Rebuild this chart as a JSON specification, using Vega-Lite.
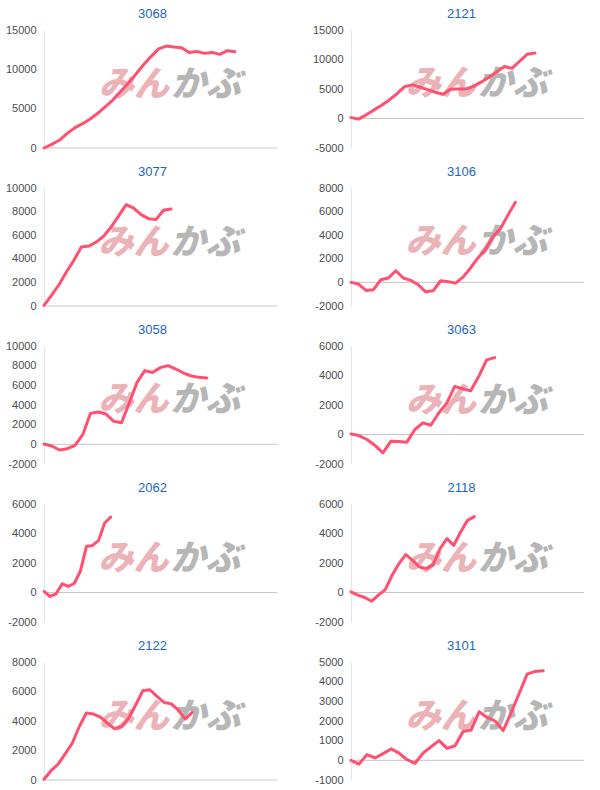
{
  "$schema": "https://vega.github.io/schema/vega-lite/v6.json",
  "padding": {"left": 5, "top": 8, "right": 5, "bottom": 5},
  "columns": 2,
  "spacing": {"row": 13, "column": 34},
  "config": {
    "view": {"stroke": null},
    "font": "Liberation Sans",
    "title": {"fontSize": 13, "fontWeight": "normal", "color": "#1a66c8", "anchor": "middle", "frame": "group", "offset": 3, "dx": -6, "font": "Liberation Sans"},
    "axisY": {"ticks": false, "labelPadding": 8, "labelFontSize": 11, "labelColor": "#4d4d4d", "labelFont": "Liberation Sans", "domainColor": "#e4e4e4", "gridColor": "#ebebeb", "title": null, "labelExpr": "'' + datum.value"},
    "line": {"color": "#ff5070", "strokeWidth": 3, "strokeJoin": "round", "strokeCap": "round"},
    "rule": {"color": "#c6c6c6", "strokeWidth": 1},
    "text": {"font": "Noto Sans CJK JP", "fontSize": 35, "fontWeight": 900, "fontStyle": "italic", "baseline": "middle"}
  },
  "concat": [
    {
      "title": {"text": "3068", "dx": -8}, "width": 233, "height": 118,
      "layer": [
        {"data": {"values": [{}]}, "mark": {"type": "text", "align": "right", "dx": -1, "fill": "#ebb3b7"}, "encoding": {"x": {"datum": 16.5, "type": "quantitative", "axis": null}, "y": {"datum": 8000, "type": "quantitative", "axis": {"values": [0, 5000, 10000, 15000]}}, "text": {"value": "みん"}}},
        {"data": {"values": [{}]}, "mark": {"type": "text", "align": "left", "dx": 1, "fill": "#b6b6b6"}, "encoding": {"x": {"datum": 16.5, "type": "quantitative", "axis": null}, "y": {"datum": 8000, "type": "quantitative", "axis": {"values": [0, 5000, 10000, 15000]}}, "text": {"value": "かぶ"}}},
        {"data": {"values": [{}]}, "mark": "rule", "encoding": {"y": {"datum": 0, "type": "quantitative", "axis": {"values": [0, 5000, 10000, 15000]}}}},
        {"data": {"values": [{"i":0,"v":0},{"i":1,"v":470},{"i":2,"v":980},{"i":3,"v":1830},{"i":4,"v":2550},{"i":5,"v":3060},{"i":6,"v":3660},{"i":7,"v":4380},{"i":8,"v":5230},{"i":9,"v":6090},{"i":10,"v":7150},{"i":11,"v":8210},{"i":12,"v":9360},{"i":13,"v":10550},{"i":14,"v":11620},{"i":15,"v":12600},{"i":16,"v":12960},{"i":17,"v":12830},{"i":18,"v":12750},{"i":19,"v":12150},{"i":20,"v":12280},{"i":21,"v":12030},{"i":22,"v":12150},{"i":23,"v":11900},{"i":24,"v":12370},{"i":25,"v":12240}]},
         "mark": "line",
         "encoding": {"x": {"field": "i", "type": "quantitative", "scale": {"domain": [0, 30.5], "nice": false}, "axis": null},
                      "y": {"field": "v", "type": "quantitative", "scale": {"domain": [0, 15000], "nice": false}, "axis": {"values": [0, 5000, 10000, 15000]}}}}
      ]
    },
    {
      "title": "2121", "width": 233, "height": 118,
      "layer": [
        {"data": {"values": [{}]}, "mark": {"type": "text", "align": "right", "dx": -1, "fill": "#ebb3b7"}, "encoding": {"x": {"datum": 16.4, "type": "quantitative", "axis": null}, "y": {"datum": 5900, "type": "quantitative", "axis": {"values": [-5000, 0, 5000, 10000, 15000]}}, "text": {"value": "みん"}}},
        {"data": {"values": [{}]}, "mark": {"type": "text", "align": "left", "dx": 1, "fill": "#b6b6b6"}, "encoding": {"x": {"datum": 16.4, "type": "quantitative", "axis": null}, "y": {"datum": 5900, "type": "quantitative", "axis": {"values": [-5000, 0, 5000, 10000, 15000]}}, "text": {"value": "かぶ"}}},
        {"data": {"values": [{}]}, "mark": "rule", "encoding": {"y": {"datum": 0, "type": "quantitative", "axis": {"values": [-5000, 0, 5000, 10000, 15000]}}}},
        {"data": {"values": [{"i":0,"v":150},{"i":1,"v":-100},{"i":2,"v":620},{"i":3,"v":1460},{"i":4,"v":2250},{"i":5,"v":3150},{"i":6,"v":4200},{"i":7,"v":5400},{"i":8,"v":5700},{"i":9,"v":5300},{"i":10,"v":4900},{"i":11,"v":4450},{"i":12,"v":4100},{"i":13,"v":4950},{"i":14,"v":5000},{"i":15,"v":5000},{"i":16,"v":5450},{"i":17,"v":6200},{"i":18,"v":7000},{"i":19,"v":7900},{"i":20,"v":8800},{"i":21,"v":8500},{"i":22,"v":9700},{"i":23,"v":10900},{"i":24,"v":11100}]},
         "mark": "line",
         "encoding": {"x": {"field": "i", "type": "quantitative", "scale": {"domain": [0, 30.4], "nice": false}, "axis": null},
                      "y": {"field": "v", "type": "quantitative", "scale": {"domain": [-5000, 15000], "nice": false}, "axis": {"values": [-5000, 0, 5000, 10000, 15000]}}}}
      ]
    },
    {
      "title": {"text": "3077", "dx": -8}, "width": 233, "height": 118,
      "layer": [
        {"data": {"values": [{}]}, "mark": {"type": "text", "align": "right", "dx": -1, "fill": "#ebb3b7"}, "encoding": {"x": {"datum": 16.8, "type": "quantitative", "axis": null}, "y": {"datum": 5300, "type": "quantitative", "axis": {"values": [0, 2000, 4000, 6000, 8000, 10000]}}, "text": {"value": "みん"}}},
        {"data": {"values": [{}]}, "mark": {"type": "text", "align": "left", "dx": 1, "fill": "#b6b6b6"}, "encoding": {"x": {"datum": 16.8, "type": "quantitative", "axis": null}, "y": {"datum": 5300, "type": "quantitative", "axis": {"values": [0, 2000, 4000, 6000, 8000, 10000]}}, "text": {"value": "かぶ"}}},
        {"data": {"values": [{}]}, "mark": "rule", "encoding": {"y": {"datum": 0, "type": "quantitative", "axis": {"values": [0, 2000, 4000, 6000, 8000, 10000]}}}},
        {"data": {"values": [{"i":0,"v":60},{"i":1,"v":900},{"i":2,"v":1800},{"i":3,"v":2880},{"i":4,"v":3870},{"i":5,"v":5000},{"i":6,"v":5080},{"i":7,"v":5420},{"i":8,"v":5930},{"i":9,"v":6700},{"i":10,"v":7630},{"i":11,"v":8590},{"i":12,"v":8300},{"i":13,"v":7740},{"i":14,"v":7400},{"i":15,"v":7320},{"i":16,"v":8110},{"i":17,"v":8220}]},
         "mark": "line",
         "encoding": {"x": {"field": "i", "type": "quantitative", "scale": {"domain": [0, 31.2], "nice": false}, "axis": null},
                      "y": {"field": "v", "type": "quantitative", "scale": {"domain": [0, 10000], "nice": false}, "axis": {"values": [0, 2000, 4000, 6000, 8000, 10000]}}}}
      ]
    },
    {
      "title": "3106", "width": 233, "height": 118,
      "layer": [
        {"data": {"values": [{}]}, "mark": {"type": "text", "align": "right", "dx": -1, "fill": "#ebb3b7"}, "encoding": {"x": {"datum": 16.8, "type": "quantitative", "axis": null}, "y": {"datum": 3400, "type": "quantitative", "axis": {"values": [-2000, 0, 2000, 4000, 6000, 8000]}}, "text": {"value": "みん"}}},
        {"data": {"values": [{}]}, "mark": {"type": "text", "align": "left", "dx": 1, "fill": "#b6b6b6"}, "encoding": {"x": {"datum": 16.8, "type": "quantitative", "axis": null}, "y": {"datum": 3400, "type": "quantitative", "axis": {"values": [-2000, 0, 2000, 4000, 6000, 8000]}}, "text": {"value": "かぶ"}}},
        {"data": {"values": [{}]}, "mark": "rule", "encoding": {"y": {"datum": 0, "type": "quantitative", "axis": {"values": [-2000, 0, 2000, 4000, 6000, 8000]}}}},
        {"data": {"values": [{"i":0,"v":0},{"i":1,"v":-140},{"i":2,"v":-680},{"i":3,"v":-620},{"i":4,"v":230},{"i":5,"v":370},{"i":6,"v":990},{"i":7,"v":370},{"i":8,"v":170},{"i":9,"v":-200},{"i":10,"v":-800},{"i":11,"v":-710},{"i":12,"v":140},{"i":13,"v":60},{"i":14,"v":-60},{"i":15,"v":450},{"i":16,"v":1220},{"i":17,"v":2070},{"i":18,"v":2780},{"i":19,"v":3860},{"i":20,"v":4550},{"i":21,"v":5680},{"i":22,"v":6780}]},
         "mark": "line",
         "encoding": {"x": {"field": "i", "type": "quantitative", "scale": {"domain": [0, 31.2], "nice": false}, "axis": null},
                      "y": {"field": "v", "type": "quantitative", "scale": {"domain": [-2000, 8000], "nice": false}, "axis": {"values": [-2000, 0, 2000, 4000, 6000, 8000]}}}}
      ]
    },
    {
      "title": {"text": "3058", "dx": -8}, "width": 233, "height": 118,
      "layer": [
        {"data": {"values": [{}]}, "mark": {"type": "text", "align": "right", "dx": -1, "fill": "#ebb3b7"}, "encoding": {"x": {"datum": 16.2, "type": "quantitative", "axis": null}, "y": {"datum": 4500, "type": "quantitative", "axis": {"values": [-2000, 0, 2000, 4000, 6000, 8000, 10000]}}, "text": {"value": "みん"}}},
        {"data": {"values": [{}]}, "mark": {"type": "text", "align": "left", "dx": 1, "fill": "#b6b6b6"}, "encoding": {"x": {"datum": 16.2, "type": "quantitative", "axis": null}, "y": {"datum": 4500, "type": "quantitative", "axis": {"values": [-2000, 0, 2000, 4000, 6000, 8000, 10000]}}, "text": {"value": "かぶ"}}},
        {"data": {"values": [{}]}, "mark": "rule", "encoding": {"y": {"datum": 0, "type": "quantitative", "axis": {"values": [-2000, 0, 2000, 4000, 6000, 8000, 10000]}}}},
        {"data": {"values": [{"i":0,"v":30},{"i":1,"v":-170},{"i":2,"v":-580},{"i":3,"v":-440},{"i":4,"v":-100},{"i":5,"v":980},{"i":6,"v":3150},{"i":7,"v":3290},{"i":8,"v":3080},{"i":9,"v":2340},{"i":10,"v":2200},{"i":11,"v":4200},{"i":12,"v":6300},{"i":13,"v":7500},{"i":14,"v":7300},{"i":15,"v":7800},{"i":16,"v":8000},{"i":17,"v":7660},{"i":18,"v":7250},{"i":19,"v":6950},{"i":20,"v":6810},{"i":21,"v":6750}]},
         "mark": "line",
         "encoding": {"x": {"field": "i", "type": "quantitative", "scale": {"domain": [0, 30.05], "nice": false}, "axis": null},
                      "y": {"field": "v", "type": "quantitative", "scale": {"domain": [-2000, 10000], "nice": false}, "axis": {"values": [-2000, 0, 2000, 4000, 6000, 8000, 10000]}}}}
      ]
    },
    {
      "title": "3063", "width": 233, "height": 118,
      "layer": [
        {"data": {"values": [{}]}, "mark": {"type": "text", "align": "right", "dx": -1, "fill": "#ebb3b7"}, "encoding": {"x": {"datum": 15.8, "type": "quantitative", "axis": null}, "y": {"datum": 2300, "type": "quantitative", "axis": {"values": [-2000, 0, 2000, 4000, 6000]}}, "text": {"value": "みん"}}},
        {"data": {"values": [{}]}, "mark": {"type": "text", "align": "left", "dx": 1, "fill": "#b6b6b6"}, "encoding": {"x": {"datum": 15.8, "type": "quantitative", "axis": null}, "y": {"datum": 2300, "type": "quantitative", "axis": {"values": [-2000, 0, 2000, 4000, 6000]}}, "text": {"value": "かぶ"}}},
        {"data": {"values": [{}]}, "mark": "rule", "encoding": {"y": {"datum": 0, "type": "quantitative", "axis": {"values": [-2000, 0, 2000, 4000, 6000]}}}},
        {"data": {"values": [{"i":0,"v":40},{"i":1,"v":-70},{"i":2,"v":-340},{"i":3,"v":-740},{"i":4,"v":-1240},{"i":5,"v":-450},{"i":6,"v":-470},{"i":7,"v":-520},{"i":8,"v":340},{"i":9,"v":790},{"i":10,"v":630},{"i":11,"v":1460},{"i":12,"v":2130},{"i":13,"v":3260},{"i":14,"v":3100},{"i":15,"v":2970},{"i":16,"v":3930},{"i":17,"v":5060},{"i":18,"v":5210}]},
         "mark": "line",
         "encoding": {"x": {"field": "i", "type": "quantitative", "scale": {"domain": [0, 29.2], "nice": false}, "axis": null},
                      "y": {"field": "v", "type": "quantitative", "scale": {"domain": [-2000, 6000], "nice": false}, "axis": {"values": [-2000, 0, 2000, 4000, 6000]}}}}
      ]
    },
    {
      "title": {"text": "2062", "dx": -8}, "width": 233, "height": 118,
      "layer": [
        {"data": {"values": [{}]}, "mark": {"type": "text", "align": "right", "dx": -1, "fill": "#ebb3b7"}, "encoding": {"x": {"datum": 20.7, "type": "quantitative", "axis": null}, "y": {"datum": 2300, "type": "quantitative", "axis": {"values": [-2000, 0, 2000, 4000, 6000]}}, "text": {"value": "みん"}}},
        {"data": {"values": [{}]}, "mark": {"type": "text", "align": "left", "dx": 1, "fill": "#b6b6b6"}, "encoding": {"x": {"datum": 20.7, "type": "quantitative", "axis": null}, "y": {"datum": 2300, "type": "quantitative", "axis": {"values": [-2000, 0, 2000, 4000, 6000]}}, "text": {"value": "かぶ"}}},
        {"data": {"values": [{}]}, "mark": "rule", "encoding": {"y": {"datum": 0, "type": "quantitative", "axis": {"values": [-2000, 0, 2000, 4000, 6000]}}}},
        {"data": {"values": [{"i":0,"v":70},{"i":1,"v":-270},{"i":2,"v":-90},{"i":3,"v":590},{"i":4,"v":410},{"i":5,"v":630},{"i":6,"v":1450},{"i":7,"v":3120},{"i":8,"v":3190},{"i":9,"v":3530},{"i":10,"v":4710},{"i":11,"v":5110}]},
         "mark": "line",
         "encoding": {"x": {"field": "i", "type": "quantitative", "scale": {"domain": [0, 38.4], "nice": false}, "axis": null},
                      "y": {"field": "v", "type": "quantitative", "scale": {"domain": [-2000, 6000], "nice": false}, "axis": {"values": [-2000, 0, 2000, 4000, 6000]}}}}
      ]
    },
    {
      "title": "2118", "width": 233, "height": 118,
      "layer": [
        {"data": {"values": [{}]}, "mark": {"type": "text", "align": "right", "dx": -1, "fill": "#ebb3b7"}, "encoding": {"x": {"datum": 18.4, "type": "quantitative", "axis": null}, "y": {"datum": 2300, "type": "quantitative", "axis": {"values": [-2000, 0, 2000, 4000, 6000]}}, "text": {"value": "みん"}}},
        {"data": {"values": [{}]}, "mark": {"type": "text", "align": "left", "dx": 1, "fill": "#b6b6b6"}, "encoding": {"x": {"datum": 18.4, "type": "quantitative", "axis": null}, "y": {"datum": 2300, "type": "quantitative", "axis": {"values": [-2000, 0, 2000, 4000, 6000]}}, "text": {"value": "かぶ"}}},
        {"data": {"values": [{}]}, "mark": "rule", "encoding": {"y": {"datum": 0, "type": "quantitative", "axis": {"values": [-2000, 0, 2000, 4000, 6000]}}}},
        {"data": {"values": [{"i":0,"v":45},{"i":1,"v":-180},{"i":2,"v":-340},{"i":3,"v":-590},{"i":4,"v":-180},{"i":5,"v":200},{"i":6,"v":1170},{"i":7,"v":1960},{"i":8,"v":2570},{"i":9,"v":2180},{"i":10,"v":1730},{"i":11,"v":1620},{"i":12,"v":1890},{"i":13,"v":2970},{"i":14,"v":3650},{"i":15,"v":3200},{"i":16,"v":4100},{"i":17,"v":4890},{"i":18,"v":5140}]},
         "mark": "line",
         "encoding": {"x": {"field": "i", "type": "quantitative", "scale": {"domain": [0, 34], "nice": false}, "axis": null},
                      "y": {"field": "v", "type": "quantitative", "scale": {"domain": [-2000, 6000], "nice": false}, "axis": {"values": [-2000, 0, 2000, 4000, 6000]}}}}
      ]
    },
    {
      "title": {"text": "2122", "dx": -8}, "width": 233, "height": 118,
      "layer": [
        {"data": {"values": [{}]}, "mark": {"type": "text", "align": "right", "dx": -1, "fill": "#ebb3b7"}, "encoding": {"x": {"datum": 17.8, "type": "quantitative", "axis": null}, "y": {"datum": 4250, "type": "quantitative", "axis": {"values": [0, 2000, 4000, 6000, 8000]}}, "text": {"value": "みん"}}},
        {"data": {"values": [{}]}, "mark": {"type": "text", "align": "left", "dx": 1, "fill": "#b6b6b6"}, "encoding": {"x": {"datum": 17.8, "type": "quantitative", "axis": null}, "y": {"datum": 4250, "type": "quantitative", "axis": {"values": [0, 2000, 4000, 6000, 8000]}}, "text": {"value": "かぶ"}}},
        {"data": {"values": [{}]}, "mark": "rule", "encoding": {"y": {"datum": 0, "type": "quantitative", "axis": {"values": [0, 2000, 4000, 6000, 8000]}}}},
        {"data": {"values": [{"i":0,"v":50},{"i":1,"v":630},{"i":2,"v":1070},{"i":3,"v":1770},{"i":4,"v":2490},{"i":5,"v":3630},{"i":6,"v":4540},{"i":7,"v":4470},{"i":8,"v":4260},{"i":9,"v":3850},{"i":10,"v":3470},{"i":11,"v":3630},{"i":12,"v":4200},{"i":13,"v":5100},{"i":14,"v":6050},{"i":15,"v":6120},{"i":16,"v":5670},{"i":17,"v":5260},{"i":18,"v":5170},{"i":19,"v":4760},{"i":20,"v":4130},{"i":21,"v":4580}]},
         "mark": "line",
         "encoding": {"x": {"field": "i", "type": "quantitative", "scale": {"domain": [0, 33], "nice": false}, "axis": null},
                      "y": {"field": "v", "type": "quantitative", "scale": {"domain": [0, 8000], "nice": false}, "axis": {"values": [0, 2000, 4000, 6000, 8000]}}}}
      ]
    },
    {
      "title": "3101", "width": 233, "height": 118,
      "layer": [
        {"data": {"values": [{}]}, "mark": {"type": "text", "align": "right", "dx": -1, "fill": "#ebb3b7"}, "encoding": {"x": {"datum": 15.7, "type": "quantitative", "axis": null}, "y": {"datum": 2200, "type": "quantitative", "axis": {"values": [-1000, 0, 1000, 2000, 3000, 4000, 5000]}}, "text": {"value": "みん"}}},
        {"data": {"values": [{}]}, "mark": {"type": "text", "align": "left", "dx": 1, "fill": "#b6b6b6"}, "encoding": {"x": {"datum": 15.7, "type": "quantitative", "axis": null}, "y": {"datum": 2200, "type": "quantitative", "axis": {"values": [-1000, 0, 1000, 2000, 3000, 4000, 5000]}}, "text": {"value": "かぶ"}}},
        {"data": {"values": [{}]}, "mark": "rule", "encoding": {"y": {"datum": 0, "type": "quantitative", "axis": {"values": [-1000, 0, 1000, 2000, 3000, 4000, 5000]}}}},
        {"data": {"values": [{"i":0,"v":0},{"i":1,"v":-190},{"i":2,"v":290},{"i":3,"v":120},{"i":4,"v":340},{"i":5,"v":580},{"i":6,"v":370},{"i":7,"v":30},{"i":8,"v":-150},{"i":9,"v":370},{"i":10,"v":690},{"i":11,"v":1000},{"i":12,"v":610},{"i":13,"v":740},{"i":14,"v":1470},{"i":15,"v":1540},{"i":16,"v":2470},{"i":17,"v":2180},{"i":18,"v":2000},{"i":19,"v":1510},{"i":20,"v":2420},{"i":21,"v":3400},{"i":22,"v":4380},{"i":23,"v":4520},{"i":24,"v":4550}]},
         "mark": "line",
         "encoding": {"x": {"field": "i", "type": "quantitative", "scale": {"domain": [0, 29.1], "nice": false}, "axis": null},
                      "y": {"field": "v", "type": "quantitative", "scale": {"domain": [-1000, 5000], "nice": false}, "axis": {"values": [-1000, 0, 1000, 2000, 3000, 4000, 5000]}}}}
      ]
    }
  ]
}
